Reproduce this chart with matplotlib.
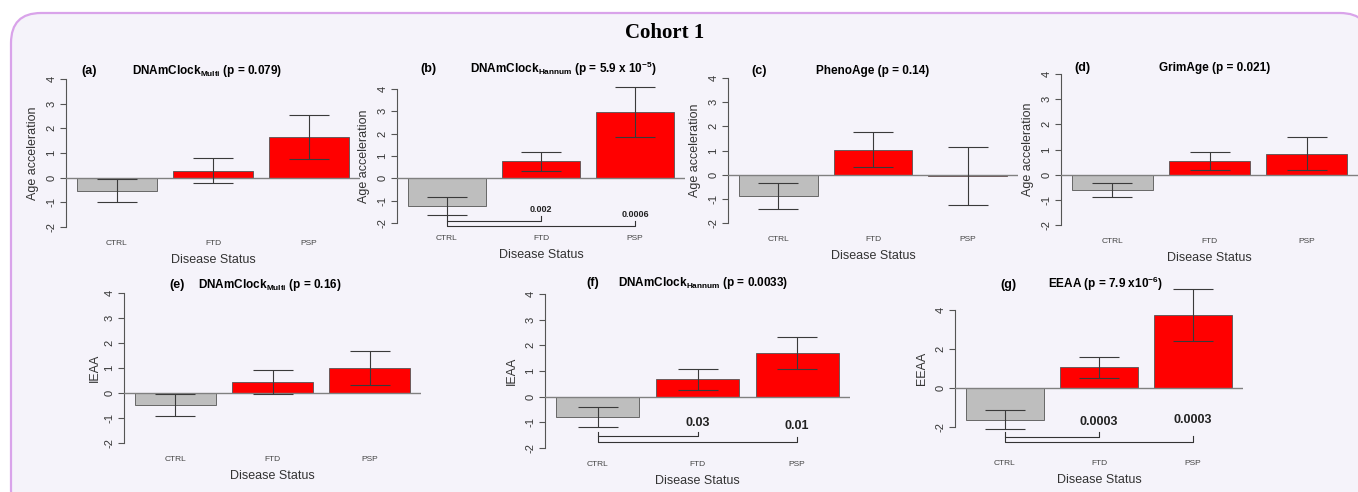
import matplotlib
matplotlib.use("Agg")
import matplotlib.pyplot as plt
from matplotlib.patches import FancyBboxPatch
import numpy as np

plt.rcParams['font.family'] = ['Liberation Sans', 'DejaVu Sans']
plt.rcParams['axes.unicode_minus'] = False
plt.rcParams['mathtext.fontset'] = 'custom'
plt.rcParams['mathtext.rm'] = 'Liberation Sans:bold'
plt.rcParams['mathtext.it'] = 'Liberation Sans:bold'
plt.rcParams['mathtext.bf'] = 'Liberation Sans:bold'

W, H = 1358, 492

# data
groups = ['CTRL', 'FTD', 'PSP']
bar_colors = ['#bebebe', '#ff0000', '#ff0000']

a_mean = [-0.53, 0.28, 1.65]
a_err = [0.47, 0.51, 0.88]
b_mean = [-1.22, 0.76, 2.98]
b_err = [0.40, 0.42, 1.11]
c_mean = [-0.90, 1.04, -0.07]
c_err = [0.54, 0.74, 1.20]
d_mean = [-0.60, 0.55, 0.83]
d_err = [0.28, 0.37, 0.66]
e_mean = [-0.47, 0.44, 1.00]
e_err = [0.44, 0.48, 0.68]
f_mean = [-0.79, 0.67, 1.71]
f_err = [0.40, 0.40, 0.63]
g_mean = [-1.62, 1.07, 3.76]
g_err = [0.48, 0.54, 1.33]

b_pvals = ['0.002', '0.0006']
f_pvals = ['0.03', '0.01']
g_pvals = ['0.0003', '0.0003']

tags = ['(a)', '(b)', '(c)', '(d)', '(e)', '(f)', '(g)']
titles = [r'DNAmClock$_{\mathrm{Multi}}$ (p = 0.079)',
          r'DNAmClock$_{\mathrm{Hannum}}$ (p = 5.9 x 10$^{\mathrm{-5}}$)',
          'PhenoAge (p = 0.14)',
          'GrimAge (p = 0.021)',
          r'DNAmClock$_{\mathrm{Multi}}$ (p = 0.16)',
          r'DNAmClock$_{\mathrm{Hannum}}$ (p = 0.0033)',
          r'EEAA (p = 7.9 x10$^{\mathrm{-6}}$)']
ylabels = ['Age acceleration'] * 4 + ['IEAA', 'IEAA', 'EEAA']

fig = plt.figure(figsize=(W / 100, H / 100), dpi=100)
fig.patch.set_facecolor('white')

# rounded background frame
bg = fig.add_axes([0, 0, 1, 1], zorder=-5)
bg.set_xlim(0, W)
bg.set_ylim(H, 0)
bg.axis('off')
bg.add_patch(FancyBboxPatch((11 + 30, 13 + 30), 1370 - 11 - 60, 520 - 13 - 60,
                            boxstyle='round,pad=30', facecolor='#f5f3fa',
                            edgecolor='#d9a3ea', lw=1.6))
fig.text(665 / W, 1 - 33 / H, 'Cohort 1', family='Liberation Serif',
         fontweight='bold', fontsize=15, ha='center', va='center')

# panel layout in pixels: left, right, y of tick 4, y of tick -2, ylim
panels = [
    dict(l=66, r=360, y4=79, ym2=227, ylim=(-2.24, 4.24)),
    dict(l=397, r=685, y4=89, ym2=223, ylim=(-2.24, 4.24)),
    dict(l=728, r=1018, y4=78, ym2=223, ylim=(-2.24, 4.24)),
    dict(l=1061, r=1358, y4=74, ym2=225, ylim=(-2.24, 4.24)),
    dict(l=124, r=421, y4=293, ym2=443, ylim=(-2.24, 4.24)),
    dict(l=545, r=850, y4=294, ym2=448, ylim=(-2.24, 4.24)),
    dict(l=955, r=1243, y4=310, ym2=427, ylim=(-3.32, 5.32)),
]
tag_pos = [(89, 71), (428, 69), (759, 71), (1082, 68), (177, 285), (593, 283), (1008, 285)]
title_pos = [(207, 71), (563, 69), (873, 71), (1215, 68), (270, 285), (703, 283), (1105, 284)]

means = [a_mean, b_mean, c_mean, d_mean, e_mean, f_mean, g_mean]
errs = [a_err, b_err, c_err, d_err, e_err, f_err, g_err]

xpos = np.arange(3) * 1.2 + 0.7


def add_bracket(ax, pvals, lv1, top1, lv2, top2, ctrl_top, ty, fs):
    c = '#333333'
    ax.plot([xpos[0], xpos[0], xpos[1], xpos[1]], [ctrl_top, lv1, lv1, top1],
            color=c, lw=0.8, clip_on=False)
    ax.plot([xpos[0], xpos[0], xpos[2], xpos[2]], [lv1, lv2, lv2, top2],
            color=c, lw=0.8, clip_on=False)
    for i, p in enumerate(pvals):
        ax.text(xpos[i + 1], ty[i], p, fontweight='bold',
                fontsize=fs, ha='center', va='center', color='#222222')


axes = []
for k, p in enumerate(panels):
    ppu = (p['ym2'] - p['y4']) / 6.0
    top = p['y4'] - (p['ylim'][1] - 4) * ppu
    bot = p['ym2'] + (-2 - p['ylim'][0]) * ppu
    ax = fig.add_axes([p['l'] / W, 1 - bot / H, (p['r'] - p['l']) / W, (bot - top) / H])
    ax.patch.set_alpha(0)
    ax.bar(xpos, means[k], width=1.0, color=bar_colors, edgecolor='#555555', lw=0.6, zorder=2)
    ax.errorbar(xpos, means[k], yerr=errs[k], fmt='none', ecolor='#3a3a3a',
                elinewidth=0.8, capsize=14.4, capthick=0.8, zorder=4)
    ax.axhline(0, color='#808080', lw=1, zorder=3)
    ax.set_xlim(0.064, 3.736)
    ax.set_ylim(*p['ylim'])
    for s in ['top', 'right', 'bottom']:
        ax.spines[s].set_visible(False)
    ax.spines['left'].set_bounds(-2, 4)
    ax.spines['left'].set_color('#555555')
    ax.spines['left'].set_linewidth(0.8)
    if k == 6:
        ax.set_yticks([-2, 0, 2, 4])
    else:
        ax.set_yticks(range(-2, 5))
    ax.tick_params(axis='y', length=4, width=0.8, color='#555555', labelsize=8,
                   labelcolor='#333333', pad=3, labelrotation=90)
    for lab in ax.get_yticklabels():
        lab.set_va('center')
    ax.set_xticks(xpos, groups)
    ax.tick_params(axis='x', length=0, labelsize=6, labelcolor='#444444', pad=5)
    hpx = bot - top
    wpx = p['r'] - p['l']
    ax.set_xlabel('Disease Status', fontsize=9, color='#333333')
    ax.xaxis.set_label_coords(0.5, -27 / hpx)
    ax.xaxis.label.set_va('center')
    ax.set_ylabel(ylabels[k], fontsize=9, color='#333333')
    ax.yaxis.set_label_coords(-(29 if k == 4 else 33) / wpx, 0.5)
    ax.yaxis.label.set_va('center')
    fig.text(tag_pos[k][0] / W, 1 - tag_pos[k][1] / H, tags[k],
             fontweight='bold', fontsize=9, ha='center', va='center')
    fig.text(title_pos[k][0] / W, 1 - title_pos[k][1] / H, titles[k],
             fontweight='bold', fontsize=8.5, ha='center', va='center')
    axes.append(ax)

add_bracket(axes[1], b_pvals, -1.91, -1.70, -2.15, -1.90, b_mean[0] - b_err[0],
            [-1.40, -1.61], 6.5)
add_bracket(axes[5], f_pvals, -1.54, -1.37, -1.77, -1.58, -1.37, [-1.02, -1.15], 9)
add_bracket(axes[6], g_pvals, -2.50, -2.25, -2.77, -2.47, -2.25, [-1.74, -1.65], 9)

fig.savefig('out.png', dpi=100)
